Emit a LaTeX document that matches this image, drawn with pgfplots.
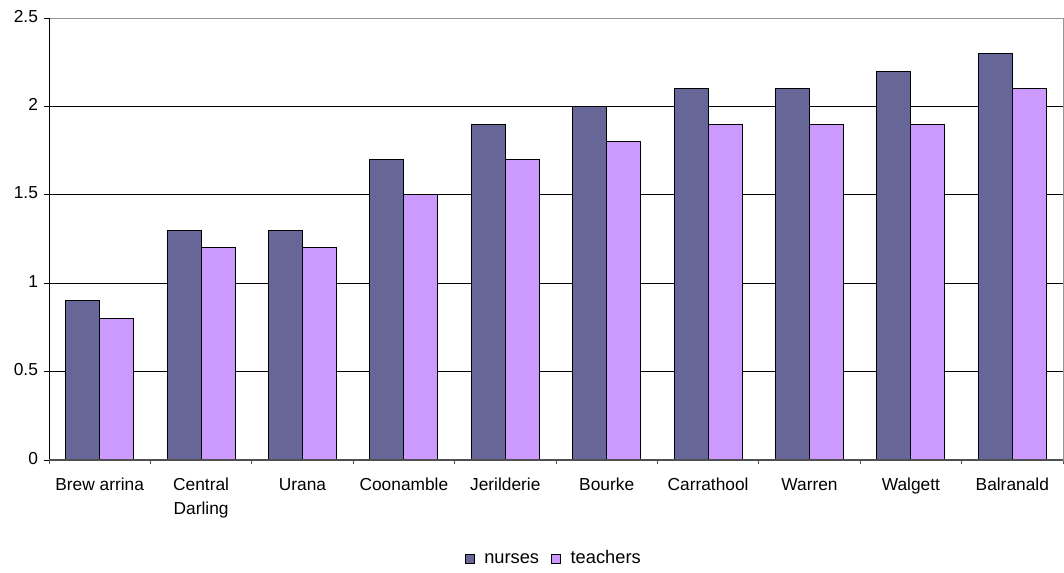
\documentclass[border=0pt]{standalone}
\usepackage{pgfplots}
\pgfplotsset{compat=1.18}
\usepackage{fontspec}
\setmainfont{Liberation Sans}
\definecolor{nurse}{RGB}{102,102,153}
\definecolor{teacher}{RGB}{204,153,255}
\definecolor{frame}{RGB}{150,150,150}
\definecolor{baseax}{RGB}{80,80,80}

\pgfplotstableread{
x nurses teachers
0 0.9 0.8
1 1.3 1.2
2 1.3 1.2
3 1.7 1.5
4 1.9 1.7
5 2.0 1.8
6 2.1 1.9
7 2.1 1.9
8 2.2 1.9
9 2.3 2.1
}\ratios

\begin{document}
\begin{tikzpicture}
\begin{axis}[
  scale only axis,
  width=760.5pt, height=331.5pt,
  xmin=-0.5, xmax=9.5,
  ymin=0, ymax=2.5,
  ybar=0pt,
  bar width=25.5pt,
  axis line style={frame, line width=0.75pt},
  xtick={0,...,9},
  xticklabels={Brew arrina, Central\\Darling, Urana, Coonamble, Jerilderie, Bourke, Carrathool, Warren, Walgett, Balranald},
  typeset ticklabels with strut,
  xticklabel style={align=center, font=\fontsize{13pt}{18pt}\selectfont, anchor=north, yshift=-2.75pt},
  major x tick style={draw=none},
  minor xtick={-0.5,0.5,...,9.5},
  minor tick length=3pt,
  x tick style={baseax, line width=0.75pt},
  ytick={0,0.5,1,1.5,2,2.5},
  yticklabels={0,0.5,1,1.5,2,2.5},
  yticklabel style={font=\fontsize{13pt}{15pt}\selectfont, xshift=-1pt},
  y tick style={black, line width=0.75pt},
  major tick length=3.75pt,
  tick align=outside,
  tick pos=left,
  ymajorgrids,
  grid style={black, line width=0.75pt},
  legend style={at={(0.4985,-0.224)}, anchor=center, legend columns=2, draw=none,
    font=\fontsize{13.7pt}{15pt}\selectfont,
    nodes={text height=10pt, text depth=2.7pt, inner sep=2.8pt},
    /tikz/every odd column/.append style={column sep=4.5pt},
    /tikz/every even column/.append style={column sep=6pt}},
  legend image code/.code={\draw[#1, draw=black, line width=0.75pt] (0pt,-3.4pt) rectangle (6.8pt,3.4pt);},
]
\addplot[fill=nurse, draw=black, line width=0.75pt] table[x=x, y=nurses] {\ratios};
\addplot[fill=teacher, draw=black, line width=0.75pt] table[x=x, y=teachers] {\ratios};
\legend{nurses, teachers}
\draw[frame, line width=0.75pt] (rel axis cs:0,1) -- (rel axis cs:1,1) -- (rel axis cs:1,0);
\draw[black, line width=0.75pt] (rel axis cs:0,0) -- (rel axis cs:0,1);
\draw[baseax, line width=1.1pt] (rel axis cs:0,0) -- (rel axis cs:1,0);
\end{axis}
\pgfresetboundingbox
\useasboundingbox (-36.75pt,-84pt) rectangle (761.25pt,345pt);
\end{tikzpicture}
\end{document}
